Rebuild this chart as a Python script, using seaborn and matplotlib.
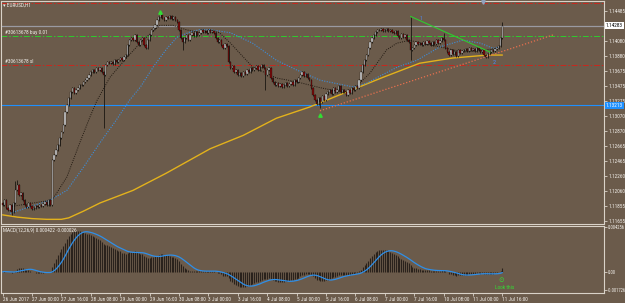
import numpy as np
import pandas as pd
import matplotlib
matplotlib.use("Agg")
import matplotlib.pyplot as plt
import matplotlib.transforms as mtrans
from matplotlib import font_manager as fm
import seaborn as sns

# ---------------- data ----------------
symbol_label = "EURUSD,H1"
time_labels = ["26 Jun 2017", "27 Jun 00:00", "27 Jun 16:00", "28 Jun 08:00", "29 Jun 00:00",
               "29 Jun 16:00", "30 Jun 08:00", "3 Jul 00:00", "3 Jul 16:00", "4 Jul 08:00",
               "5 Jul 00:00", "5 Jul 16:00", "6 Jul 08:00", "7 Jul 00:00", "7 Jul 16:00",
               "10 Jul 08:00", "11 Jul 00:00", "11 Jul 16:00"]
time_label_bars = list(range(0, 273, 16))

# 1.14280 sits under the current-price box, as in the reference
price_ticks = [1.14485, 1.14080, 1.13880, 1.13675, 1.13475, 1.13275, 1.13070,
               1.12870, 1.12665, 1.12465, 1.12260, 1.12060, 1.11855, 1.11655]
price_tick_labels = ["1.14485", "1.14080", "1.13880", "1.13675", "1.13475", "1.13275",
                     "1.13070", "1.12870", "1.12665", "1.12465", "1.12260", "1.12060", "1.11855",
                     "1.11655"]

closes = [
    1.1187, 1.1194, 1.1183, 1.1181, 1.1187, 1.1178, 1.1190, 1.1207, 1.1214, 1.1201,
    1.1203, 1.1194, 1.1187, 1.1185, 1.1190, 1.1186, 1.1182, 1.1183, 1.1186, 1.1185,
    1.1187, 1.1186, 1.1189, 1.1191, 1.1187, 1.1194, 1.1187, 1.1248, 1.1254, 1.1261,
    1.1268, 1.1277, 1.1285, 1.1295, 1.1312, 1.1322, 1.1331, 1.1339, 1.1345, 1.1338,
    1.1342, 1.1345, 1.1349, 1.1349, 1.1353, 1.1355, 1.1358, 1.1362, 1.1366, 1.1369,
    1.1366, 1.1372, 1.1369, 1.1372, 1.1366, 1.1362, 1.1376, 1.1380, 1.1378, 1.1380,
    1.1377, 1.1382, 1.1380, 1.1382, 1.1385, 1.1382, 1.1386, 1.1389, 1.1402, 1.1409,
    1.1412, 1.1409, 1.1416, 1.1407, 1.1402, 1.1409, 1.1412, 1.1402, 1.1398, 1.1409,
    1.1416, 1.1423, 1.1425, 1.1429, 1.1436, 1.1440, 1.1443, 1.1439, 1.1436, 1.1440,
    1.1439, 1.1441, 1.1437, 1.1440, 1.1436, 1.1433, 1.1423, 1.1412, 1.1407, 1.1412,
    1.1416, 1.1409, 1.1416, 1.1419, 1.1415, 1.1420, 1.1416, 1.1419, 1.1423, 1.1420,
    1.1421, 1.1419, 1.1423, 1.1420, 1.1421, 1.1419, 1.1412, 1.1407, 1.1409, 1.1402,
    1.1398, 1.1404, 1.1401, 1.1380, 1.1372, 1.1374, 1.1366, 1.1369, 1.1362, 1.1365,
    1.1361, 1.1366, 1.1363, 1.1369, 1.1366, 1.1372, 1.1369, 1.1372, 1.1374, 1.1369,
    1.1373, 1.1376, 1.1372, 1.1362, 1.1369, 1.1372, 1.1358, 1.1353, 1.1349, 1.1351,
    1.1347, 1.1350, 1.1346, 1.1349, 1.1351, 1.1347, 1.1350, 1.1353, 1.1349, 1.1355,
    1.1353, 1.1358, 1.1362, 1.1366, 1.1361, 1.1363, 1.1358, 1.1355, 1.1345, 1.1335,
    1.1328, 1.1323, 1.1331, 1.1326, 1.1334, 1.1328, 1.1337, 1.1339, 1.1342, 1.1337,
    1.1345, 1.1339, 1.1342, 1.1347, 1.1339, 1.1342, 1.1339, 1.1335, 1.1342, 1.1338,
    1.1345, 1.1342, 1.1347, 1.1345, 1.1355, 1.1366, 1.1376, 1.1382, 1.1389, 1.1398,
    1.1407, 1.1412, 1.1416, 1.1420, 1.1423, 1.1423, 1.1424, 1.1421, 1.1423, 1.1424,
    1.1421, 1.1423, 1.1420, 1.1419, 1.1421, 1.1415, 1.1412, 1.1417, 1.1413, 1.1416,
    1.1409, 1.1407, 1.1396, 1.1398, 1.1402, 1.1407, 1.1404, 1.1405, 1.1402, 1.1407,
    1.1404, 1.1408, 1.1405, 1.1402, 1.1407, 1.1404, 1.1409, 1.1405, 1.1408, 1.1412,
    1.1409, 1.1398, 1.1393, 1.1389, 1.1396, 1.1390, 1.1393, 1.1388, 1.1396, 1.1392,
    1.1394, 1.1396, 1.1397, 1.1394, 1.1398, 1.1396, 1.1397, 1.1394, 1.1398, 1.1396,
    1.1393, 1.1396, 1.1389, 1.1386, 1.1390, 1.1393, 1.1396, 1.1394, 1.1397, 1.1398,
    1.1401, 1.1412, 1.1428]
first_open = 1.1190
high_overrides = {7: 1.1219, 8: 1.1221, 86: 1.1447, 222: 1.1440, 240: 1.1419, 272: 1.1433}
low_overrides = {5: 1.1174, 55: 1.1291, 98: 1.1396, 143: 1.1342, 173: 1.1318, 222: 1.1382}

slow_ma_bars = [0, 8, 16, 24, 32, 36, 44, 53, 71, 89, 113, 131, 149, 167, 176, 193, 207, 227, 245, 264, 272]
slow_ma_vals = [1.1174, 1.1171, 1.1169, 1.1168, 1.1168, 1.1170, 1.1179, 1.1190, 1.1207, 1.1230, 1.1263,
                1.1281, 1.1304, 1.1319, 1.1328, 1.1345, 1.1359, 1.1378, 1.1385, 1.1389, 1.1389]

mid_ma_bars = [4, 26, 35, 44, 53, 62, 69, 75, 82, 89.5, 95, 102, 107, 113, 124, 136, 149, 160, 173,
               191, 198, 204, 215, 225.5, 238, 250.5, 260, 267, 271]
mid_ma_vals = [1.1176, 1.1194, 1.1207, 1.1238, 1.1271, 1.1302, 1.1328, 1.1346, 1.1373, 1.1398, 1.1413,
               1.1420, 1.1423, 1.1423, 1.1419, 1.1405, 1.1382, 1.1369, 1.1355, 1.1346, 1.1351, 1.1359,
               1.1373, 1.1382, 1.1400, 1.1409, 1.1405, 1.1398, 1.1400]

fast_ma_bars = [4, 27, 35, 42, 47.6, 51.4, 58.4, 67.7, 76.4, 85.7, 92.7, 100, 107.4, 113, 118, 124, 136,
                149.3, 160, 173, 185, 190.7, 200, 209, 214.6, 221.7, 227, 238, 250.5, 263.6, 269]
fast_ma_vals = [1.1185, 1.1194, 1.1225, 1.1271, 1.1306, 1.1328, 1.1359, 1.1386, 1.1409, 1.1429, 1.1429,
                1.1423, 1.1419, 1.1422, 1.1419, 1.1405, 1.1373, 1.1358, 1.1353, 1.1345, 1.1339, 1.1342,
                1.1365, 1.1396, 1.1405, 1.1409, 1.1405, 1.1400, 1.1393, 1.1396, 1.1398]

level_tp = 1.1459
level_bid = 1.14283
level_entry = 1.1415
level_sl = 1.1376
level_alert = 1.13213
bid_label = "1.14283"
alert_label = "1.13213"
entry_label = "#30613678 buy 0.01"
sl_label = "#30613678 sl"

green_trend_bars = [222, 265.3]
green_trend_vals = [1.1441, 1.1393]
salmon_trend_bars = [172.7, 299.5]
salmon_trend_vals = [1.1314, 1.1416]

macd_label = "MACD(12,26,9) 0.000422 -0.000026"
macd_ticks = [0.004256, 0.0, -0.001726]
macd_tick_labels = ["0.004256", "0.00", "-0.001726"]

# ---------------- style ----------------
BG = "#6B5B4B"
FG = "#F2EFEA"
BORDER = "#D9D2C8"
sns.set_style("dark", rc={"axes.facecolor": BG, "figure.facecolor": BG,
                          "axes.edgecolor": BORDER, "grid.color": BG})

# pick the narrowest installed sans family
_names = {f.name for f in fm.fontManager.ttflist}
_cond_dejavu = any(f.name == "DejaVu Sans" and "ondensed" in f.fname for f in fm.fontManager.ttflist)
if "Liberation Sans Narrow" in _names:
    FONT, STRETCH, FS = "Liberation Sans Narrow", "normal", 3.9
elif "Roboto Condensed" in _names:
    FONT, STRETCH, FS = "Roboto Condensed", "normal", 3.8
elif _cond_dejavu:
    FONT, STRETCH, FS = "DejaVu Sans", "condensed", 3.4
else:
    FONT, STRETCH, FS = "Roboto", "normal", 3.3
plt.rcParams['font.family'] = [FONT, 'DejaVu Sans']
plt.rcParams['font.stretch'] = STRETCH

W, H = 625, 303
fig = plt.figure(figsize=(W / 100, H / 100), dpi=100)
fig.patch.set_facecolor(BG)
ax = fig.add_axes([1 / W, 1 - 223.5 / H, 603 / W, 222.5 / H])
ax2 = fig.add_axes([1 / W, 1 - 293.3 / H, 603 / W, 67.8 / H])

n = len(closes)
idx = np.arange(n)
c = np.array(closes)
o = np.concatenate([[first_open], c[:-1]])
pad = 0.00013
hi = np.maximum(o, c) + pad
lo = np.minimum(o, c) - pad
for k, v in high_overrides.items():
    hi[k] = v
for k, v in low_overrides.items():
    lo[k] = v

xlim = (-0.87, 327.3)
for a in (ax, ax2):
    a.set_xlim(*xlim)
    a.grid(False)
    for s in a.spines.values():
        s.set_color(BORDER)
        s.set_linewidth(0.8)
ax.set_ylim(1.11624, 1.14617)
ax2.set_ylim(-0.00204, 0.00440)

trans = mtrans.blended_transform_factory(ax.transAxes, ax.transData)

# horizontal levels
dd = (0, (6, 2, 1.5, 2))
ax.axhline(level_tp, color="#C8281E", lw=0.7, ls=dd, zorder=1)
ax.axhline(level_bid, color="#9A9AA2", lw=0.9, zorder=1)
ax.axhline(level_entry, color="#2ECC2E", lw=0.7, ls=dd, zorder=1)
ax.axhline(level_sl, color="#C8281E", lw=0.7, ls=dd, zorder=1)
ax.axhline(level_alert, color="#1E90FF", lw=0.8, zorder=1)

# moving averages
sns.lineplot(x=slow_ma_bars, y=slow_ma_vals, ax=ax, color="#E3B21C", lw=1.0, zorder=2)
sns.lineplot(x=mid_ma_bars, y=mid_ma_vals, ax=ax, color="#3C8EDB", lw=0.8, ls=(0, (1, 1.3)), zorder=2)
sns.lineplot(x=fast_ma_bars, y=fast_ma_vals, ax=ax, color="#201810", lw=0.7, ls=(0, (1, 1.3)), zorder=2)

# candles
up = c >= o
ax.vlines(idx, lo, hi, color="#0A0806", lw=0.5, zorder=3)
body_h = np.maximum(np.abs(c - o), 0.00003)
ax.bar(idx[up], body_h[up], bottom=np.minimum(o, c)[up], width=0.7, color="#C9C9C9",
       edgecolor="#0A0806", linewidth=0.2, zorder=4)
ax.bar(idx[~up], body_h[~up], bottom=np.minimum(o, c)[~up], width=0.7, color="#7A0A0A",
       edgecolor="#0A0806", linewidth=0.2, zorder=4)

# trend lines
sns.lineplot(x=green_trend_bars, y=green_trend_vals, ax=ax, color="#2ECC2E", lw=0.8, zorder=5)
sns.lineplot(x=salmon_trend_bars, y=salmon_trend_vals, ax=ax, color="#E8704E", lw=0.9,
             ls=(0, (1, 1.5)), zorder=5)

# marks and labels
ax.plot([85.7], [1.14475], marker="^", ms=2.5, color="#33DD33", ls="none", zorder=6)
ax.plot([172.7], [1.13083], marker="^", ms=2.5, color="#33DD33", ls="none", zorder=6)
ax.plot([261.4], [1.14600], marker="v", ms=2.5, color="#8FA3C0", ls="none", zorder=6, clip_on=False)
ax.text(227.7, 1.14388, "1", color="#4A8CFF", fontsize=FS, ha="center", va="center", zorder=6)
ax.text(267.4, 1.13796, "2", color="#4A8CFF", fontsize=FS + 0.6, ha="center", va="center", zorder=6)
ax.text(1.3, level_entry + 0.00012, entry_label, color=FG, fontsize=FS, ha="left", va="bottom", zorder=6)
ax.text(1.3, level_sl + 0.00012, sl_label, color=FG, fontsize=FS, ha="left", va="bottom", zorder=6)
ax.text(0.004, 0.992, "\u25BE " + symbol_label, transform=ax.transAxes, color=FG, fontsize=FS,
        ha="left", va="top", zorder=6)

# right price axis
ax.yaxis.tick_right()
ax.set_yticks(price_ticks)
ax.set_yticklabels(price_tick_labels)
ax.tick_params(axis="y", colors=BORDER, labelcolor=FG, labelsize=FS, length=2, width=0.6, pad=1.2,
               direction="out", right=True, left=False)
ax.set_xticks([])
ax.set_ylabel("")
ax.set_xlabel("")
ax.text(1.003, level_bid, bid_label, transform=trans, fontsize=FS, color="black", ha="left",
        va="center", clip_on=False, zorder=10,
        bbox=dict(boxstyle="square,pad=0.2", fc="white", ec="none"))
ax.text(1.003, level_alert, alert_label, transform=trans, fontsize=FS, color="white", ha="left",
        va="center", clip_on=False, zorder=10,
        bbox=dict(boxstyle="square,pad=0.2", fc="#1E90FF", ec="none"))

# ---------------- MACD ----------------
s = pd.Series(closes)
macd_main = s.ewm(span=12, adjust=False).mean() - s.ewm(span=26, adjust=False).mean()
macd_signal = macd_main.rolling(9, min_periods=1).mean()
ax2.vlines(idx, 0, macd_main.values, color="#2A221C", lw=0.8, zorder=2)
sns.lineplot(x=idx, y=macd_signal.values, ax=ax2, color="#2F8FE8", lw=0.9, zorder=3)
ax2.text(0.003, 0.97, macd_label, transform=ax2.transAxes, color=FG, fontsize=FS, ha="left",
         va="top", zorder=6)
ax2.text(271.5, -0.00078, "\u2299", color="#33DD33", fontsize=FS + 1, ha="center", va="center", zorder=6)
ax2.text(273, -0.00148, "Look this", color="#33DD33", fontsize=FS, ha="center", va="center", zorder=6)

ax2.yaxis.tick_right()
ax2.set_yticks(macd_ticks)
ax2.set_yticklabels(macd_tick_labels)
ax2.tick_params(axis="y", colors=BORDER, labelcolor=FG, labelsize=FS - 0.5, length=2, width=0.6, pad=0.8,
                direction="out", right=True, left=False)
ax2.set_xticks(time_label_bars)
ax2.set_xticklabels(time_labels, ha="left")
ax2.tick_params(axis="x", colors=BORDER, labelcolor=FG, labelsize=FS, length=2, width=0.6, pad=1,
                direction="out", bottom=True)
ax2.set_ylabel("")
ax2.set_xlabel("")

fig.savefig("out.png", dpi=100, facecolor=BG)
